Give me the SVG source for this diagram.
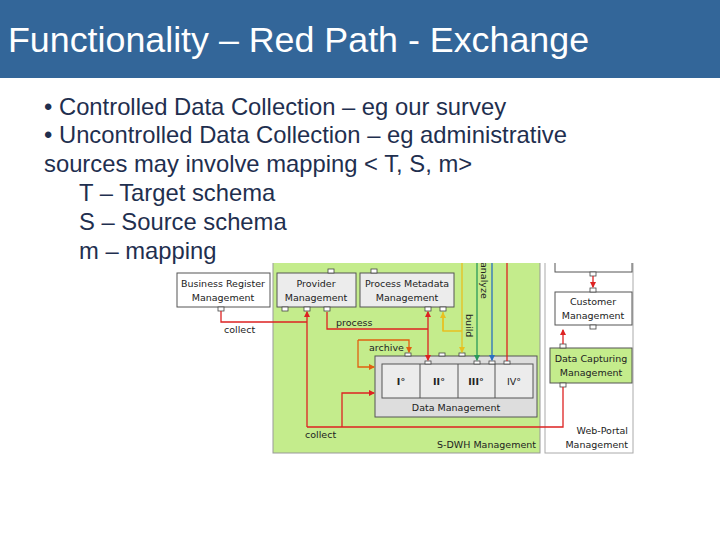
<svg xmlns="http://www.w3.org/2000/svg" width="720" height="540" viewBox="0 0 720 540">
<defs>
<style>
.t{font-family:"Liberation Sans",Arial,sans-serif}
.b{font-size:23.8px;fill:#1f2f4f}
.s{font-family:"DejaVu Sans",sans-serif;font-size:9.5px;fill:#222}
.box{fill:#ececec;stroke:#555;stroke-width:1}
.gb{fill:#ddd;stroke:#555;stroke-width:1}
.p{fill:#fff;stroke:#444;stroke-width:0.8}
.r{stroke:#d22;stroke-width:1.3;fill:none}
</style>
<clipPath id="fc"><rect x="170" y="263" width="470" height="195"/></clipPath>
<marker id="ar" viewBox="0 0 6 6" refX="5" refY="3" markerWidth="5" markerHeight="5" orient="auto"><path d="M0,0L6,3L0,6z" fill="#d22"/></marker>
<marker id="ao" viewBox="0 0 6 6" refX="5" refY="3" markerWidth="5" markerHeight="5" orient="auto"><path d="M0,0L6,3L0,6z" fill="#e06010"/></marker>
<marker id="ay" viewBox="0 0 6 6" refX="5" refY="3" markerWidth="5" markerHeight="5" orient="auto"><path d="M0,0L6,3L0,6z" fill="#e8c020"/></marker>
<marker id="ag" viewBox="0 0 6 6" refX="5" refY="3" markerWidth="5" markerHeight="5" orient="auto"><path d="M0,0L6,3L0,6z" fill="#2a9a5a"/></marker>
<marker id="ab" viewBox="0 0 6 6" refX="5" refY="3" markerWidth="5" markerHeight="5" orient="auto"><path d="M0,0L6,3L0,6z" fill="#2a70c0"/></marker>
</defs>
<rect width="720" height="540" fill="#fff"/>
<g id="title"><rect width="720" height="78" fill="#336699"/>
<text class="t" x="8" y="52" font-size="35.8" fill="#fff">Functionality – Red Path - Exchange</text></g>
<g id="bullets" class="t b">
<text x="44" y="115">• Controlled Data Collection – eg our survey</text>
<text x="44" y="143">• Uncontrolled Data Collection – eg administrative</text>
<text x="44" y="172">sources may involve mapping &lt; T, S, m&gt;</text>
<text x="79" y="201">T – Target schema</text>
<text x="79" y="230">S – Source schema</text>
<text x="79" y="259">m – mapping</text>
</g>
<g id="figure" clip-path="url(#fc)">
<rect x="273" y="260" width="267" height="193" fill="#c4ec8c" stroke="#999"/>
<rect x="545" y="260" width="88" height="193" fill="#fff" stroke="#aaa"/>
<text class="s" x="536" y="448" text-anchor="end">S-DWH Management</text>
<text class="s" x="628" y="434" text-anchor="end">Web-Portal</text>
<text class="s" x="628" y="448" text-anchor="end">Management</text>
<g id="brm"><rect x="177" y="273" width="93" height="34" fill="#fff" stroke="#555"/>
<text class="s" x="223" y="287" text-anchor="middle">Business Register</text><text class="s" x="223" y="301" text-anchor="middle">Management</text>
<rect class="p" x="218" y="307" width="6" height="4"/></g>
<g id="pm"><rect class="box" x="277" y="273" width="79" height="34"/>
<text class="s" x="316" y="287" text-anchor="middle">Provider</text><text class="s" x="316" y="301" text-anchor="middle">Management</text>
<rect class="p" x="282" y="307" width="6" height="4"/><rect class="p" x="304" y="307" width="6" height="4"/><rect class="p" x="324" y="307" width="6" height="4"/><rect class="p" x="328" y="269" width="6" height="4"/></g>
<g id="pmm"><rect class="box" x="360" y="273" width="94" height="34"/>
<text class="s" x="407" y="287" text-anchor="middle">Process Metadata</text><text class="s" x="407" y="301" text-anchor="middle">Management</text>
<rect class="p" x="425" y="307" width="6" height="4"/><rect class="p" x="440" y="307" width="6" height="4"/><rect class="p" x="371" y="269" width="6" height="4"/></g>
<g id="dm"><rect class="gb" x="375" y="356" width="162" height="61"/>
<rect class="box" x="382" y="364" width="151" height="34"/>
<line x1="420" y1="364" x2="420" y2="398" stroke="#555"/><line x1="458" y1="364" x2="458" y2="398" stroke="#555"/><line x1="495" y1="364" x2="495" y2="398" stroke="#555"/>
<text class="s" x="401" y="385" text-anchor="middle" font-weight="bold">I°</text><text class="s" x="439" y="385" text-anchor="middle" font-weight="bold">II°</text><text class="s" x="476" y="385" text-anchor="middle" font-weight="bold">III°</text><text class="s" x="514" y="385" text-anchor="middle">IV°</text>
<text class="s" x="456" y="411" text-anchor="middle">Data Management</text>
<rect class="p" x="405" y="353" width="6" height="3"/><rect class="p" x="439" y="353" width="6" height="3"/><rect class="p" x="459" y="353" width="6" height="3"/><rect class="p" x="425" y="361" width="6" height="3"/><rect class="p" x="474" y="361" width="6" height="3"/><rect class="p" x="489" y="361" width="6" height="3"/><rect class="p" x="504" y="361" width="6" height="3"/></g>
<g id="top"><rect x="555" y="250" width="77" height="22" fill="#fff" stroke="#555"/><rect class="p" x="590" y="272" width="6" height="4"/></g>
<g id="cm"><rect x="555" y="292" width="77" height="33" fill="#fff" stroke="#555"/>
<text class="s" x="593" y="305" text-anchor="middle">Customer</text><text class="s" x="593" y="319" text-anchor="middle">Management</text>
<rect class="p" x="590" y="288" width="6" height="4"/><rect class="p" x="590" y="325" width="6" height="4"/></g>
<g id="dcm"><rect x="550" y="348" width="82" height="35" fill="#c4ec8c" stroke="#555"/>
<text class="s" x="591" y="362" text-anchor="middle">Data Capturing</text><text class="s" x="591" y="376" text-anchor="middle">Management</text>
<rect class="p" x="560" y="344" width="6" height="4"/><rect class="p" x="560" y="383" width="6" height="4"/></g>
</g>
<g id="connectors" clip-path="url(#fc)">
<path class="r" d="M221,311V322H307"/>
<path class="r" d="M307,427V312" marker-end="url(#ar)"/>
<path class="r" d="M563,387V427H307"/>
<path class="r" d="M342,427V393H374" marker-end="url(#ar)"/>
<path class="r" d="M327,312V329H428"/>
<path class="r" d="M428,329V312" marker-end="url(#ar)"/>
<path class="r" d="M428,329V360" marker-end="url(#ar)"/>
<path d="M358,340H409V352" stroke="#e06010" stroke-width="1.3" fill="none" marker-end="url(#ao)"/>
<path d="M358,340V367H374" stroke="#e06010" stroke-width="1.3" fill="none" marker-end="url(#ao)"/>
<path d="M443,312V331H462" stroke="#e8c020" stroke-width="1.3" fill="none"/>
<path d="M443,331V313" stroke="#e8c020" stroke-width="1.3" fill="none" marker-end="url(#ay)"/>
<path d="M462,255V352" stroke="#e8c020" stroke-width="1.3" fill="none" marker-end="url(#ay)"/>
<path d="M477,255V360" stroke="#2a9a5a" stroke-width="1.3" fill="none" marker-end="url(#ag)"/>
<path d="M492,255V360" stroke="#2a70c0" stroke-width="1.3" fill="none" marker-end="url(#ab)"/>
<path class="r" d="M507,255V361"/>
<path class="r" d="M593,276V287" marker-end="url(#ar)"/>
<path class="r" d="M563,344V330" marker-end="url(#ar)"/>
<text class="s" x="224" y="333">collect</text>
<text class="s" x="305" y="438">collect</text>
<text class="s" x="336" y="326">process</text>
<text class="s" x="369" y="351">archive</text>
<text class="s" transform="translate(466,314) rotate(90)">build</text>
<text class="s" transform="translate(481,262) rotate(90)">analyze</text>
</g>
</svg>
